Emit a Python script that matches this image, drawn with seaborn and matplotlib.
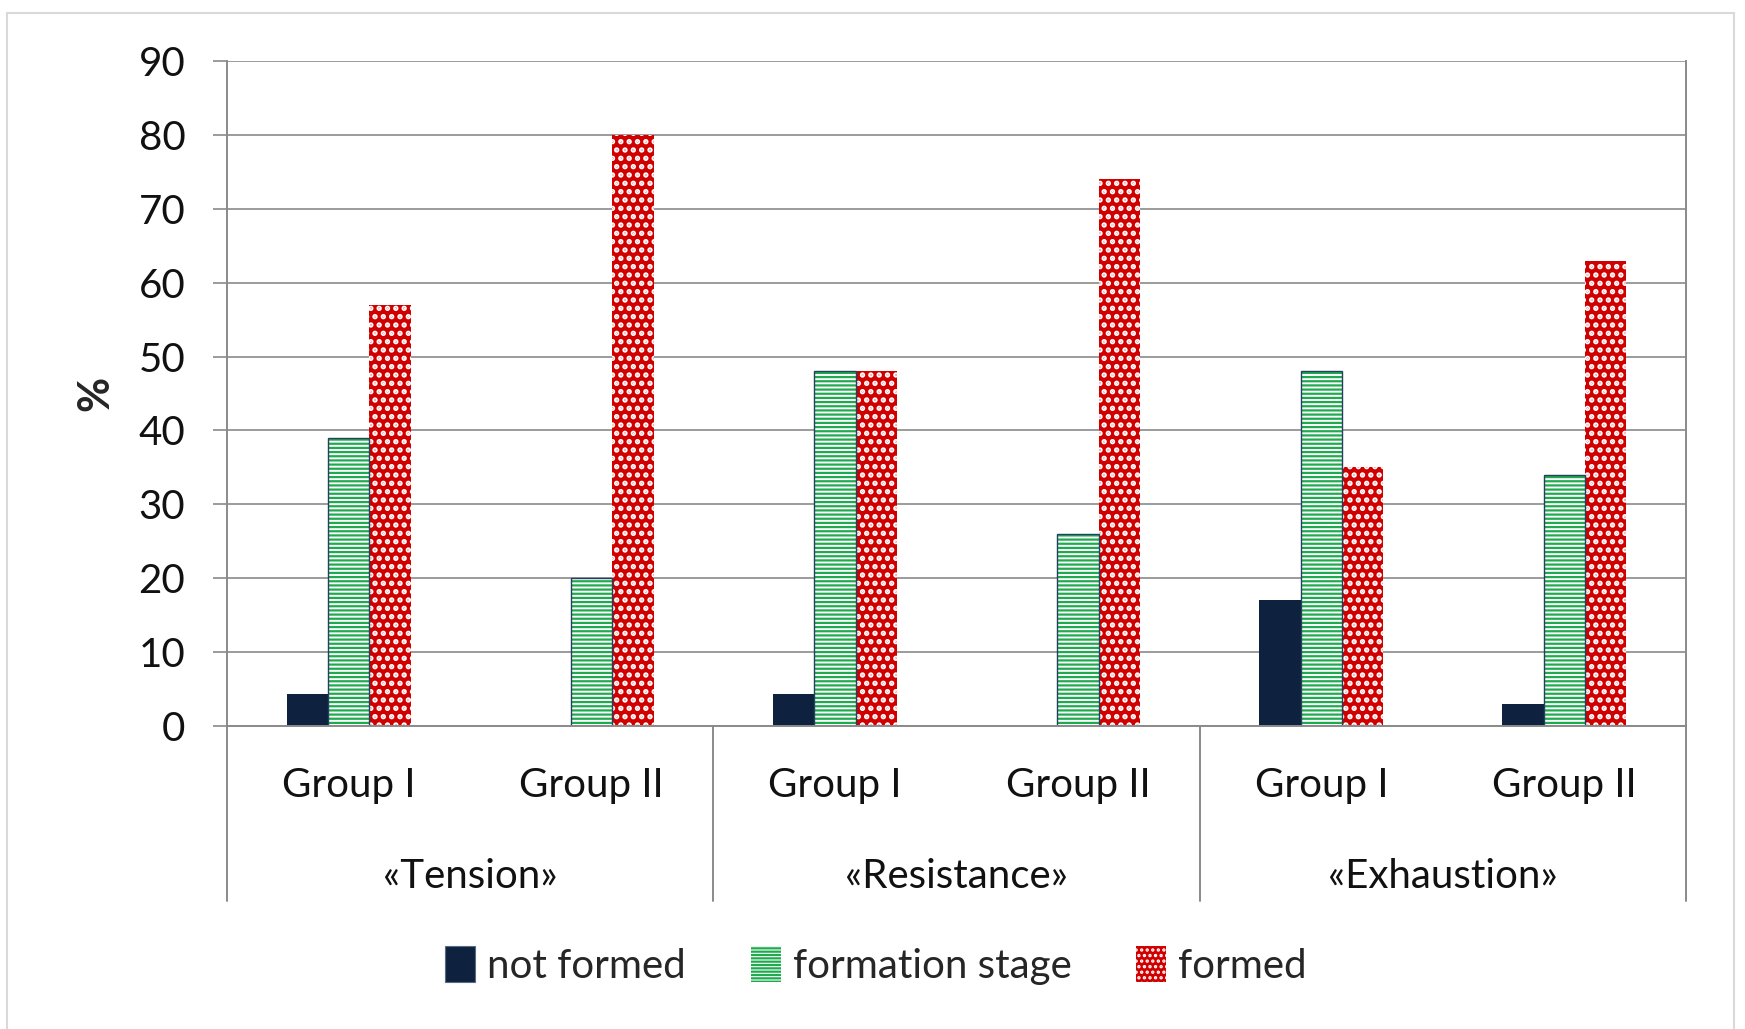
import matplotlib
matplotlib.use("Agg")
import matplotlib.pyplot as plt
from matplotlib.patches import Patch, Rectangle
from matplotlib.lines import Line2D
import seaborn as sns
import pandas as pd

# ---- data ----
stages = ["«Tension»", "«Resistance»", "«Exhaustion»"]
groups = ["Group I", "Group II"]
series = ["not formed", "formation stage", "formed"]
not_formed = [4.3, 0, 4.3, 0, 17, 3]
formation_stage = [39, 20, 48, 26, 48, 34]
formed = [57, 80, 48, 74, 35, 63]
y_ticks = [0, 10, 20, 30, 40, 50, 60, 70, 80, 90]

keys = [f"{s}|{g}" for s in stages for g in groups]
sub_labels = [g for s in stages for g in groups]
rows = []
for name, vals in zip(series, [not_formed, formation_stage, formed]):
    for k, v in zip(keys, vals):
        rows.append({"key": k, "series": name, "value": v})
df = pd.DataFrame(rows)

sns.set_theme(style="white")
plt.rcParams["font.family"] = ["Lato", "DejaVu Sans"]
plt.rcParams["hatch.linewidth"] = 1.6

NAVY = "#0e223f"
GREEN = "#1faa50"
RED = "#d00000"
GRID = "#8a8a8a"
FS = 29

fig = plt.figure(figsize=(17.45, 10.29), dpi=100)
ax = fig.add_axes([0.1301, 0.2945, 0.8361, 0.6462])

sns.barplot(data=df, x="key", y="value", hue="series", order=keys,
            hue_order=series, width=0.51, ax=ax, legend=False,
            palette=[NAVY, "white", RED], saturation=1)

cont_nf, cont_fs, cont_f = ax.containers
for b in cont_nf:
    b.set_facecolor(NAVY)
    b.set_edgecolor(NAVY)
    b.set_linewidth(0)
for b in cont_fs:
    b.set_facecolor("white")
    b.set_edgecolor(GREEN)
    b.set_hatch("----")
    b.set_linewidth(0)
    if b.get_height() > 0:
        ax.add_patch(Rectangle((b.get_x(), b.get_y()), b.get_width(), b.get_height(),
                               fill=False, edgecolor="#24405e", linewidth=1.0, zorder=b.get_zorder() + 0.1))
for b in cont_f:
    b.set_facecolor(RED)
    b.set_edgecolor("white")
    b.set_hatch("..")
    b.set_linewidth(0)
    if hasattr(b, "set_hatch_linewidth"):
        b.set_hatch_linewidth(2.6)

ax.set_ylim(0, 90)
ax.set_xlim(-0.5, len(keys) - 0.5)
ax.set_yticks(y_ticks)
ax.set_yticklabels([str(t) for t in y_ticks], fontsize=FS, color="#111111")
ax.yaxis.grid(True, color=GRID, linewidth=1.2)
ax.set_axisbelow(True)
ax.tick_params(axis="y", length=10, width=1.2, color=GRID, pad=20, left=True)
ax.set_xticks([])
ax.set_xlabel("")
ax.set_ylabel("%", fontsize=31, fontweight="bold", labelpad=17)

for side in ["left", "right", "bottom"]:
    ax.spines[side].set_visible(True)
    ax.spines[side].set_color(GRID)
    ax.spines[side].set_linewidth(1.4)
ax.spines["top"].set_visible(False)

# multi-level category axis
trans = ax.get_xaxis_transform()
for i, lab in enumerate(sub_labels):
    ax.text(i, -0.089, lab, transform=trans, ha="center", va="center", fontsize=FS, color="#111111")
for j, st in enumerate(stages):
    ax.text(2 * j + 0.5, -0.226, st, transform=trans, ha="center", va="center", fontsize=FS, color="#111111")
for j in range(len(stages) + 1):
    ax.add_line(Line2D([2 * j - 0.5, 2 * j - 0.5], [0, -0.263], transform=trans,
                       color=GRID, linewidth=1.4, clip_on=False))

handles = [
    Patch(facecolor=NAVY, edgecolor="#5a6a80", linewidth=0.8),
    Patch(facecolor="white", edgecolor=GREEN, hatch="-----", linewidth=0),
    Patch(facecolor=RED, edgecolor="white", hatch="...", linewidth=0),
]
fig.legend(handles, series, loc="center", bbox_to_anchor=(0.502, 0.062), ncol=3,
           frameon=False, fontsize=FS, handlelength=0.75, handleheight=1.0,
           handletextpad=0.3, columnspacing=1.6)

# light figure border
for xs, ys in [([0.004, 0.004], [0.0, 0.9874]), ([0.004, 0.9937], [0.9874, 0.9874]),
               ([0.9937, 0.9937], [0.0, 0.9874])]:
    fig.add_artist(Line2D(xs, ys, transform=fig.transFigure, color="#d9d9d9", linewidth=1.5))

fig.savefig("out.png", dpi=100)
